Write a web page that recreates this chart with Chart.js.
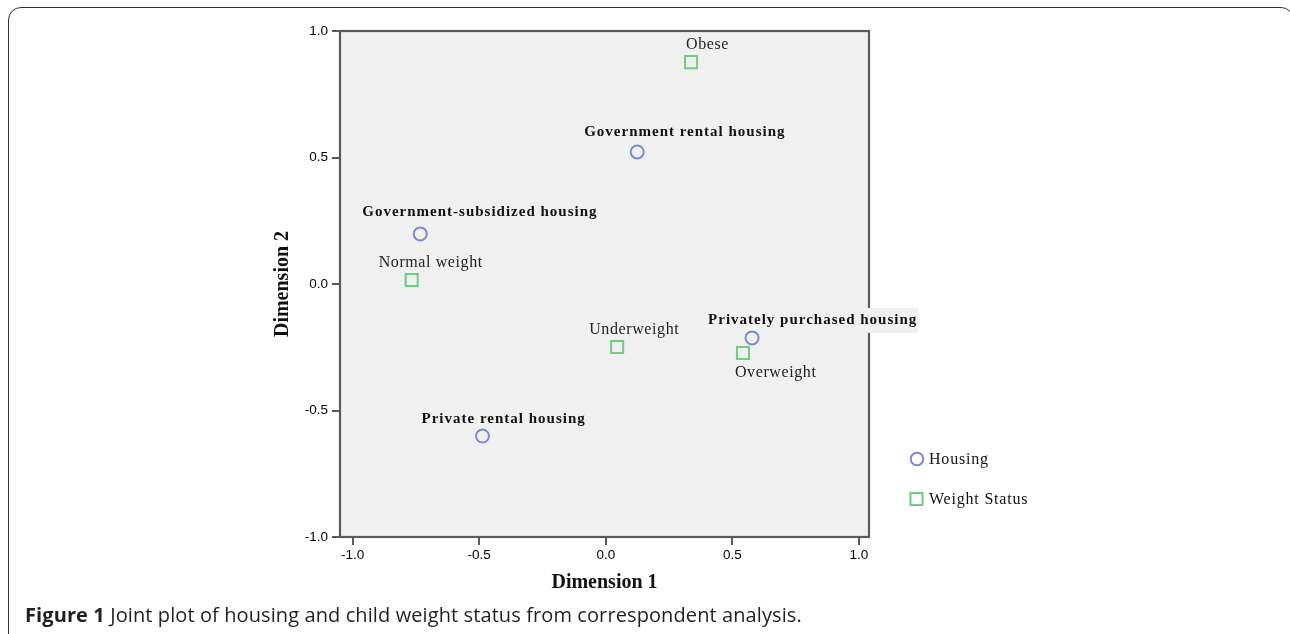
<!DOCTYPE html>
<html>
<head>
<meta charset="utf-8">
<title>Joint plot of housing and child weight status</title>
<script src="https://cdn.jsdelivr.net/npm/chart.js@4.4.1/dist/chart.umd.min.js"></script>
<style>
  html, body { margin: 0; padding: 0; background: #ffffff; }
  #wrap { position: relative; width: 1290px; height: 634px; overflow: hidden; }
  #frame {
    position: absolute; left: 8px; top: 7px; width: 1286px; height: 660px;
    border: 1.5px solid #333; border-radius: 13px; box-sizing: border-box;
  }
  #chart { position: absolute; left: 0; top: 0; }
  #caption {
    position: absolute; left: 25px; top: 601px;
    font-family: "Open Sans", sans-serif; font-size: 20px; color: #231f20;
    white-space: nowrap; letter-spacing: 0.1px;
  }
  #caption b { font-weight: 700; }
</style>
</head>
<body>
<div id="wrap">
  <div id="frame"></div>
  <canvas id="chart" width="1290" height="634"></canvas>
  <div id="caption"><b>Figure 1</b> Joint plot of housing and child weight status from correspondent analysis.</div>
</div>
<script>
// Row categories (housing) and their coordinates on the two dimensions
const housingLabels = ['Government rental housing', 'Government-subsidized housing', 'Private rental housing', 'Privately purchased housing'];
const housingDim1 = [0.124, -0.733, -0.487, 0.578];
const housingDim2 = [0.522, 0.198, -0.601, -0.213];

// Column categories (child weight status)
const weightLabels = ['Obese', 'Normal weight', 'Underweight', 'Overweight'];
const weightDim1 = [0.337, -0.767, 0.045, 0.542];
const weightDim2 = [0.877, 0.016, -0.249, -0.273];

// Axis ticks
const tickValues = [-1.0, -0.5, 0.0, 0.5, 1.0];
const tickText = ['-1.0', '-0.5', '0.0', '0.5', '1.0'];

const seriesNames = ['Housing', 'Weight Status'];

// Placement of each point label relative to its marker (text left edge, text middle)
const housingLabelOffsets = [[-53, -20], [-58, -22], [-61, -17], [-44, -18]];
const weightLabelOffsets = [[-5, -17], [-33, -17], [-28, -17], [-8, 20]];

const HOUSING_COLOR = '#7b8bd0';
const WEIGHT_COLOR = '#70cd7e';
const AXIS_COLOR = '#5a5a5a';
const PLOT_BG = '#f0f0f0';

function toPoints(xs, ys) {
  return xs.map((x, i) => ({ x: x, y: ys[i] }));
}

function fixedTicks(scale) {
  scale.ticks = tickValues.map(v => ({ value: v }));
}

function tickLabel(value) {
  const i = tickValues.findIndex(v => Math.abs(v - value) < 1e-9);
  return i >= 0 ? tickText[i] : '';
}

// Grey plot panel with its dark outline, then the category labels on top of it
const plotPanel = {
  id: 'plotPanel',
  beforeDraw(chart) {
    const { ctx, chartArea: a } = chart;
    ctx.save();
    ctx.fillStyle = PLOT_BG;
    ctx.fillRect(a.left, a.top, a.right - a.left, a.bottom - a.top);
    ctx.restore();
  },
  beforeDatasetsDraw(chart) {
    const { ctx, chartArea: a } = chart;
    ctx.save();
    ctx.strokeStyle = AXIS_COLOR;
    ctx.lineWidth = 2.2;
    ctx.strokeRect(a.left, a.top, a.right - a.left, a.bottom - a.top);
    ctx.restore();

    const groups = [
      { names: housingLabels, offsets: housingLabelOffsets, font: 'bold 15px "Liberation Serif"', spacing: '1px', color: '#111' },
      { names: weightLabels, offsets: weightLabelOffsets, font: '16px "Liberation Serif"', spacing: '0.6px', color: '#222' }
    ];
    groups.forEach((g, di) => {
      const meta = chart.getDatasetMeta(di);
      meta.data.forEach((pt, j) => {
        const tx = pt.x + g.offsets[j][0];
        const ty = pt.y + g.offsets[j][1];
        ctx.save();
        ctx.font = g.font;
        ctx.letterSpacing = g.spacing;
        ctx.textAlign = 'left';
        ctx.textBaseline = 'middle';
        const w = ctx.measureText(g.names[j]).width;
        ctx.fillStyle = PLOT_BG;
        ctx.fillRect(tx - 1, ty - 12, w + 2, 25);
        ctx.fillStyle = g.color;
        ctx.fillText(g.names[j], tx, ty);
        ctx.restore();
      });
    });
  }
};

const sideLegend = {
  id: 'sideLegend',
  afterDraw(chart) {
    const { ctx } = chart;
    const rows = [
      { y: 459, style: 'circle' },
      { y: 499, style: 'rect' }
    ];
    rows.forEach((r, i) => {
      const ds = chart.data.datasets[i];
      ctx.save();
      ctx.strokeStyle = ds.borderColor;
      ctx.lineWidth = 2;
      if (r.style === 'circle') {
        ctx.beginPath();
        ctx.arc(917, r.y, 6.3, 0, Math.PI * 2);
        ctx.stroke();
      } else {
        ctx.strokeRect(910.5, r.y - 6, 12, 12);
      }
      ctx.font = '16px "Liberation Serif"';
      ctx.letterSpacing = '0.8px';
      ctx.fillStyle = '#111';
      ctx.textAlign = 'left';
      ctx.textBaseline = 'middle';
      ctx.fillText(ds.label, 929, r.y + 1);
      ctx.restore();
    });
  }
};

new Chart(document.getElementById('chart'), {
  type: 'scatter',
  data: {
    datasets: [
      {
        label: seriesNames[0],
        data: toPoints(housingDim1, housingDim2),
        pointStyle: 'circle',
        pointRadius: 6.5,
        pointHoverRadius: 6.5,
        borderColor: HOUSING_COLOR,
        backgroundColor: 'rgba(0,0,0,0)',
        borderWidth: 2
      },
      {
        label: seriesNames[1],
        data: toPoints(weightDim1, weightDim2),
        pointStyle: 'rect',
        pointRadius: 8.5,
        pointHoverRadius: 8.5,
        borderColor: WEIGHT_COLOR,
        backgroundColor: 'rgba(0,0,0,0)',
        borderWidth: 2
      }
    ]
  },
  options: {
    responsive: false,
    devicePixelRatio: 1,
    animation: false,
    events: [],
    layout: { padding: { top: 31, right: 421, bottom: 0, left: 0 } },
    plugins: {
      legend: { display: false },
      tooltip: { enabled: false }
    },
    scales: {
      x: {
        type: 'linear',
        min: -1.05,
        max: 1.04,
        afterBuildTicks: fixedTicks,
        afterFit(scale) { scale.height = 97; },
        border: { display: false },
        grid: { drawOnChartArea: false, drawTicks: true, tickLength: 8, color: AXIS_COLOR, tickColor: AXIS_COLOR, lineWidth: 2 },
        ticks: {
          padding: 2,
          maxRotation: 0,
          autoSkip: false,
          color: '#000',
          font: { family: '"Liberation Sans", sans-serif', size: 13.5 },
          callback: tickLabel
        },
        title: {
          display: true,
          text: 'Dimension 1',
          color: '#111',
          font: { family: '"Liberation Serif", serif', size: 20, weight: 'bold', lineHeight: 1.2 },
          padding: { top: 0, bottom: 39 }
        }
      },
      y: {
        type: 'linear',
        min: -1.0,
        max: 1.0,
        afterBuildTicks: fixedTicks,
        afterFit(scale) { scale.width = 340; },
        border: { display: false },
        grid: { drawOnChartArea: false, drawTicks: true, tickLength: 8, color: AXIS_COLOR, tickColor: AXIS_COLOR, lineWidth: 2 },
        ticks: {
          padding: 4,
          autoSkip: false,
          color: '#000',
          font: { family: '"Liberation Sans", sans-serif', size: 13.5 },
          callback: tickLabel
        },
        title: {
          display: true,
          text: 'Dimension 2',
          color: '#111',
          font: { family: '"Liberation Serif", serif', size: 20, weight: 'bold', lineHeight: 1.2 },
          padding: { top: 271, bottom: 0 }
        }
      }
    }
  },
  plugins: [plotPanel, sideLegend]
});
</script>
</body>
</html>
